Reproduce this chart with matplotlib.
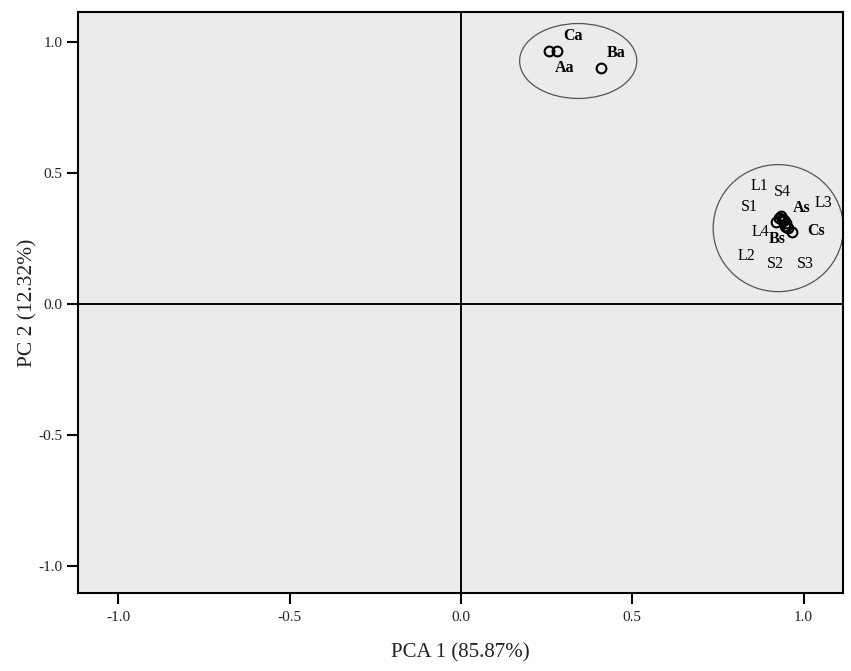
import matplotlib
matplotlib.use("Agg")
import matplotlib.pyplot as plt
from matplotlib.patches import Ellipse

# Data
names = ["Aa", "Ca", "Ba", "As", "Bs", "Cs", "L1", "L2", "L3", "L4", "S1", "S2", "S3", "S4"]
pc1 = [0.257, 0.280, 0.409, 0.934, 0.920, 0.966, 0.937, 0.945, 0.950, 0.940, 0.928, 0.955, 0.948, 0.942]
pc2 = [0.966, 0.966, 0.901, 0.336, 0.313, 0.275, 0.325, 0.300, 0.310, 0.318, 0.330, 0.290, 0.295, 0.320]
bold_names = ["Aa", "Ba", "Ca", "As", "Bs", "Cs"]
# label text positions (data coords)
label_x = [0.303, 0.327, 0.452, 0.995, 0.924, 1.037, 0.870, 0.832, 1.057, 0.873, 0.841, 0.919, 1.005, 0.938]
label_y = [0.900, 1.023, 0.958, 0.366, 0.248, 0.278, 0.450, 0.182, 0.385, 0.275, 0.370, 0.153, 0.153, 0.427]
xticks = [-1.0, -0.5, 0.0, 0.5, 1.0]
yticks = [-1.0, -0.5, 0.0, 0.5, 1.0]
xlabel = "PCA 1 (85.87%)"
ylabel = "PC 2 (12.32%)"

serif = ["Liberation Serif", "DejaVu Serif"]
plt.rcParams['font.family'] = serif

fig = plt.figure(figsize=(8.51, 6.71), dpi=100)
ax = fig.add_axes([0.0917, 0.1162, 0.8989, 0.8659])
ax.set_facecolor("#ebebeb")

ax.set_xlim(-1.118, 1.115)
ax.set_ylim(-1.103, 1.115)

ax.axhline(0, color="black", lw=1.4, zorder=1)
ax.axvline(0, color="black", lw=1.4, zorder=1)

ax.add_patch(Ellipse((0.342, 0.928), 0.342, 0.286, fill=False, edgecolor="#555555", lw=0.9, zorder=2))
ax.add_patch(Ellipse((0.926, 0.290), 0.380, 0.485, fill=False, edgecolor="#555555", lw=0.9, zorder=2))

ax.plot(pc1, pc2, linestyle="none", marker="o", markersize=7, markerfacecolor="none",
        markeredgecolor="black", markeredgewidth=1.5, zorder=3)

for n, tx, ty in zip(names, label_x, label_y):
    ax.text(tx, ty, n, ha="center", va="center", fontsize=11.5,
            fontweight="bold" if n in bold_names else "normal", zorder=4)

ax.set_xticks(xticks)
ax.set_yticks(yticks)
ax.set_xticklabels([f"{v:.1f}" for v in xticks])
ax.set_yticklabels([f"{v:.1f}" for v in yticks])
ax.tick_params(direction="out", length=8, width=1.5, labelsize=11, color="black", labelcolor="#222222")
ax.tick_params(axis="x", pad=5)
ax.tick_params(axis="y", pad=3)
for s in ax.spines.values():
    s.set_linewidth(1.5)

ax.set_xlabel(xlabel, fontsize=15, labelpad=14, color="#222222")
ax.set_ylabel(ylabel, fontsize=15.5, labelpad=1, color="#222222")

fig.savefig("out.png", dpi=100)
